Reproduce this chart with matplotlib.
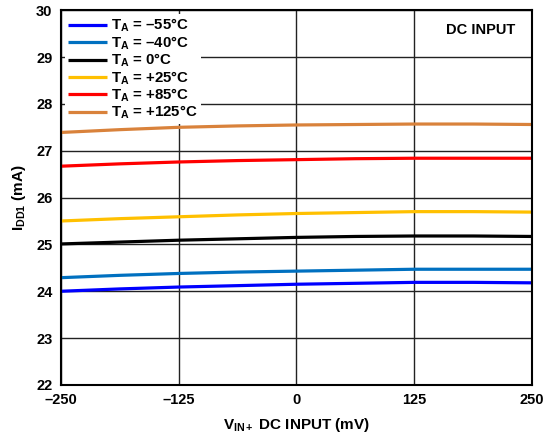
import matplotlib
matplotlib.use("Agg")
import matplotlib.pyplot as plt

plt.rcParams['font.family'] = ['Liberation Sans', 'DejaVu Sans']
plt.rcParams['font.weight'] = 'bold'
plt.rcParams['mathtext.fontset'] = 'custom'
plt.rcParams['mathtext.rm'] = 'Liberation Sans:bold'
plt.rcParams['mathtext.it'] = 'Liberation Sans:bold'
plt.rcParams['mathtext.bf'] = 'Liberation Sans:bold'

x_mv = [-250, -187.5, -125, -62.5, 0, 62.5, 125, 187.5, 250]
i_m55 = [24.00, 24.05, 24.09, 24.12, 24.15, 24.17, 24.19, 24.19, 24.18]
i_m40 = [24.29, 24.34, 24.38, 24.41, 24.43, 24.45, 24.47, 24.47, 24.47]
i_0 = [25.01, 25.05, 25.09, 25.12, 25.15, 25.17, 25.18, 25.18, 25.17]
i_25 = [25.50, 25.55, 25.59, 25.63, 25.66, 25.68, 25.70, 25.70, 25.69]
i_85 = [26.67, 26.72, 26.76, 26.79, 26.81, 26.83, 26.84, 26.84, 26.84]
i_125 = [27.39, 27.45, 27.50, 27.53, 27.55, 27.56, 27.57, 27.57, 27.56]

labels = [r"$\mathregular{T_A}$ = –55°C", r"$\mathregular{T_A}$ = –40°C",
          r"$\mathregular{T_A}$ = 0°C", r"$\mathregular{T_A}$ = +25°C",
          r"$\mathregular{T_A}$ = +85°C", r"$\mathregular{T_A}$ = +125°C"]
colors = ['#0000FF', '#0070C0', '#000000', '#FFC000', '#FF0000', '#D9823B']

x_ticks = [-250, -125, 0, 125, 250]
x_ticklabels = ['–250', '–125', '0', '125', '250']
y_ticks = [22, 23, 24, 25, 26, 27, 28, 29, 30]

fig = plt.figure(figsize=(5.48, 4.44), dpi=100)
ax = fig.add_axes([0.111, 0.133, 0.860, 0.844])

series = [i_m55, i_m40, i_0, i_25, i_85, i_125]
for ys, c, lab in zip(series, colors, labels):
    ax.plot(x_mv, ys, color=c, lw=2.3, label=lab, solid_capstyle='butt')

ax.set_xlim(-250, 250)
ax.set_ylim(22, 30)
ax.set_xticks(x_ticks)
ax.set_xticklabels(x_ticklabels)
ax.set_yticks(y_ticks)
ax.grid(True, color='#222222', lw=1.0)
ax.set_axisbelow(True)
ax.tick_params(length=0, labelsize=10.5, pad=6)
for lbl in ax.get_xticklabels() + ax.get_yticklabels():
    lbl.set_fontweight('bold')
for sp in ax.spines.values():
    sp.set_linewidth(1.5)

ax.set_xlabel(r"$\mathregular{V_{IN+}}$ DC INPUT (mV)", fontsize=11, fontweight='bold', labelpad=6)
ax.set_ylabel(r"$\mathregular{I_{DD1}}$ (mA)", fontsize=11, fontweight='bold', labelpad=6)

ax.text(0.965, 0.965, "DC INPUT", transform=ax.transAxes, ha='right', va='top',
        fontsize=10.5, fontweight='bold',
        bbox=dict(facecolor='white', edgecolor='none', pad=2))

leg = ax.legend(loc='upper left', frameon=True, fontsize=10.8, handlelength=2.6,
                handletextpad=0.3, labelspacing=0.0, borderpad=0.2,
                borderaxespad=0.25)
leg.get_frame().set_edgecolor('none')
leg.get_frame().set_facecolor('white')
leg.get_frame().set_alpha(1)
leg.get_frame().set_boxstyle('square', pad=0)

fig.savefig("out.png", dpi=100)
